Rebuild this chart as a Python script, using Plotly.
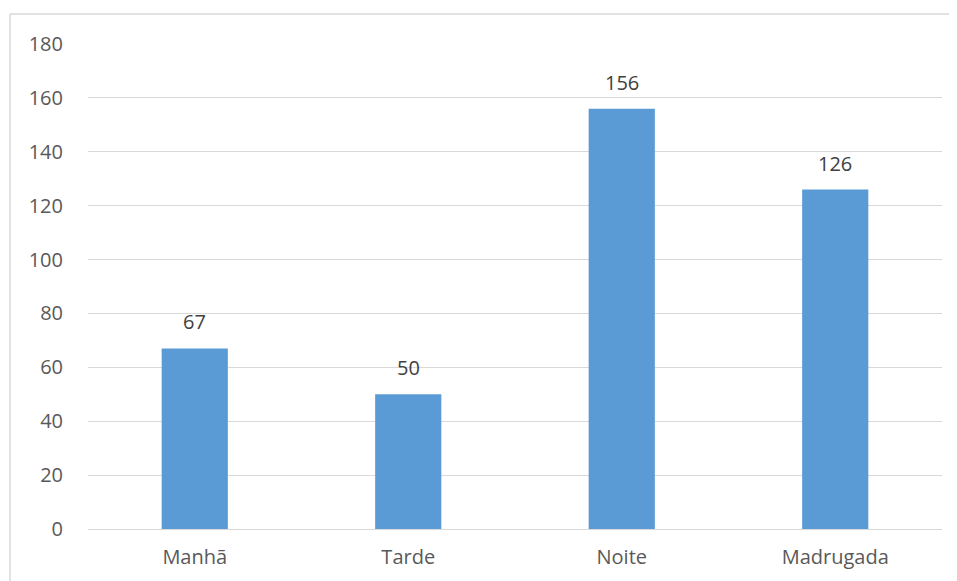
import plotly.graph_objects as go

categories = ["Manhã", "Tarde", "Noite", "Madrugada"]
values = [67, 50, 156, 126]
y_ticks = [0, 20, 40, 60, 80, 100, 120, 140, 160, 180]

# page body has an 8px margin, so the figure is laid out 8px in from the window
OFF = 8
W, H = 957 - OFF, 581 - OFF
L, T = 88 - OFF, 44 - OFF
R = W - (942 - OFF)
B = H - (529 - OFF)
pw, ph = W - L - R, H - T - B

def px_x(px):
    return (px - OFF - L) / pw

def px_y(py):
    return (H - B - (py - OFF)) / ph

font_family = "Open Sans, Lato, sans-serif"
fs = 20

fig = go.Figure()
fig.add_trace(go.Bar(
    x=categories, y=values,
    marker=dict(color="#5B9BD5", line=dict(width=0)),
    hoverinfo="x+y",
))

annotations = [
    dict(x=c, y=v, xref="x", yref="y", text=str(v), showarrow=False,
         yanchor="bottom", yshift=11,
         font=dict(family=font_family, size=fs, color="#404040"))
    for c, v in zip(categories, values)
]

shapes = [
    dict(type="line", xref="paper", yref="paper",
         x0=px_x(10), y0=px_y(14), x1=px_x(957), y1=px_y(14),
         line=dict(color="#D9D9D9", width=1.5)),
    dict(type="line", xref="paper", yref="paper",
         x0=px_x(10), y0=px_y(14), x1=px_x(10), y1=px_y(581),
         line=dict(color="#D9D9D9", width=1.5)),
]

fig.update_layout(
    width=W, height=H,
    margin=dict(l=L, r=R, t=T, b=B, pad=0),
    paper_bgcolor="white", plot_bgcolor="white",
    bargap=0.69,
    showlegend=False,
    annotations=annotations,
    shapes=shapes,
    font=dict(family=font_family, size=fs, color="#595959"),
    xaxis=dict(
        showgrid=False, showline=False, ticks="",
        ticklabelstandoff=14,
        tickfont=dict(family=font_family, size=fs, color="#595959"),
    ),
    yaxis=dict(
        range=[0, 180], tickvals=y_ticks,
        showgrid=True, gridcolor="#D9D9D9", gridwidth=1.3,
        zeroline=True, zerolinecolor="#D9D9D9", zerolinewidth=1.3,
        showline=False, ticks="",
        ticklabelstandoff=24,
        tickfont=dict(family=font_family, size=fs, color="#595959"),
    ),
)

fig.write_html("out.html")
